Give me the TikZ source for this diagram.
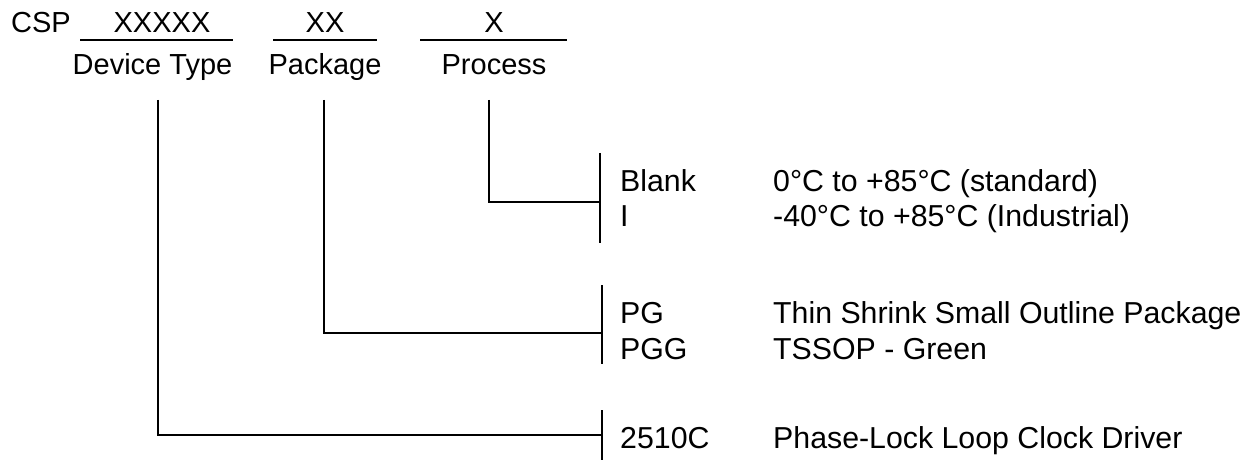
\documentclass[tikz,border=0pt]{standalone}
\usepackage{fontspec}
\setmainfont{Liberation Sans}
\usetikzlibrary{calc}

\begin{document}
\begin{tikzpicture}[x=1pt,y=-1pt,
  head/.style={inner sep=0, anchor=base, font=\fontsize{29}{34}\selectfont},
  txt/.style={inner sep=0, anchor=base west, font=\fontsize{30.3}{36}\selectfont},
  uline/.style={line width=2pt},
  drop/.style={line width=2.6pt},
  brack/.style={line width=2pt}]
\useasboundingbox (0,0) rectangle (1249,462);
% ordering code
\node[head, anchor=base west] (csp) at (11,33) {CSP};
\node[head] (devx) at (162,33) {XXXXX};
\node[head] (pkgx) at (325,33) {XX};
\node[head] (procx) at (494,33) {X};
\foreach \a/\b in {80/233, 273/377, 420/567}
 \draw[uline] (\a,40) -- (\b,40);
\node[head] (devtype) at (152.5,75) {Device Type};
\node[head] (package) at (325,75) {Package};
\node[head] (process) at (494,75) {Process};
% drop lines
\coordinate (devTop) at (158,100);
\coordinate (pkgTop) at (324,100);
\coordinate (procTop) at (489,100);
\coordinate (procBr) at (600,202);
\coordinate (pkgBr) at (602,333);
\coordinate (devBr) at (602,435);
\draw[drop] (procTop) |- (procBr);
\draw[drop] (pkgTop) |- (pkgBr);
\draw[brack] (devTop) |- (devBr);
\draw[brack] ($(procBr)+(0,-49)$) -- ($(procBr)+(0,41)$);
\draw[brack] ($(pkgBr)+(0,-48)$) -- ($(pkgBr)+(0,31)$);
\draw[brack] ($(devBr)+(0,-25)$) -- ($(devBr)+(0,25)$);
% options
\node[txt] (blank) at (620,192) {Blank};
\node[txt] (ind) at (620,227) {I};
\node[txt] (std) at (773,192) {0°C to +85°C (standard)};
\node[txt] (indus) at (773,227) {-40°C to +85°C (Industrial)};
\node[txt] (pg) at (620,323) {PG};
\node[txt] (pgg) at (620,359) {PGG};
\node[txt] (tssop) at (773,323) {Thin Shrink Small Outline Package};
\node[txt] (green) at (773,359) {TSSOP - Green};
\node[txt] (dev) at (620,448) {2510C};
\node[txt] (pll) at (773,448) {Phase-Lock Loop Clock Driver};
\end{tikzpicture}
\end{document}
